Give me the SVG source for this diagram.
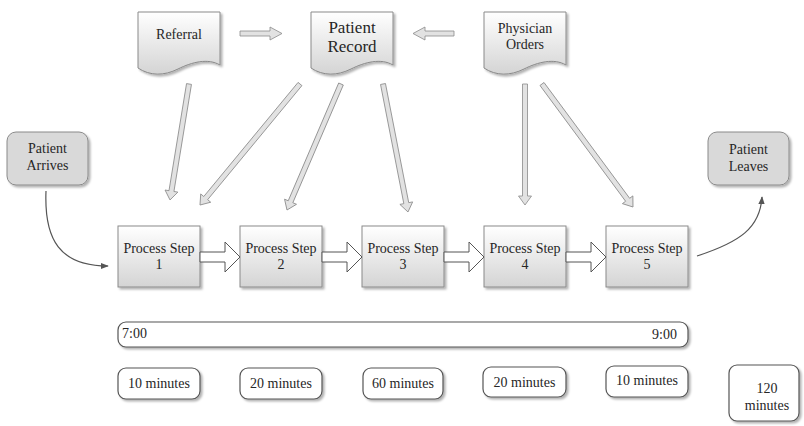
<svg xmlns="http://www.w3.org/2000/svg" width="804" height="426" viewBox="0 0 804 426">
  <defs>
    <linearGradient id="paper" x1="0" y1="0" x2="0" y2="1">
      <stop offset="0" stop-color="#ffffff"/>
      <stop offset="1" stop-color="#d4d4d4"/>
    </linearGradient>
    <filter id="shadow" x="-10%" y="-10%" width="130%" height="130%">
      <feDropShadow dx="2" dy="2" stdDeviation="1.2" flood-color="#000" flood-opacity="0.3"/>
    </filter>
    <marker id="tip" viewBox="0 0 10 10" refX="9" refY="5" markerWidth="8" markerHeight="8" orient="auto" markerUnits="userSpaceOnUse">
      <path d="M0,1 L10,5 L0,9 Z" fill="#555"/>
    </marker>
  </defs>
  <style>
    text { font-family: "Liberation Serif", "Times New Roman", serif; font-size: 14px; fill: #262626; }
    .mid { text-anchor: middle; }
    .doc { fill: url(#paper); stroke: #8a8a8a; stroke-width: 1; filter: url(#shadow); }
    .step { fill: url(#paper); stroke: #8a8a8a; stroke-width: 1; filter: url(#shadow); }
    .term { fill: #d9d9d9; stroke: #8a8a8a; stroke-width: 1; filter: url(#shadow); }
    .pill { fill: #ffffff; stroke: #555; stroke-width: 1.2; filter: url(#shadow); }
    .block { fill: #e2e2e2; stroke: #8a8a8a; stroke-width: 0.8; }
    .push { fill: #ffffff; stroke: #555; stroke-width: 1; }
    .flow { fill: none; stroke: #555; stroke-width: 1.2; marker-end: url(#tip); }
  </style>

  <!-- documents -->
  <g id="referral">
    <path class="doc" d="M138,12 H220 V65 C208,58 192,62 178,69 C164,76 150,76 138,68 Z"/>
    <text class="mid" x="179" y="39">Referral</text>
  </g>
  <g id="patient-record">
    <path class="doc" d="M311,12 H393 V65 C381,58 365,62 351,69 C337,76 323,76 311,68 Z"/>
    <text class="mid" x="352" y="33" style="font-size:17px">Patient</text>
    <text class="mid" x="352" y="52" style="font-size:17px">Record</text>
  </g>
  <g id="physician-orders">
    <path class="doc" d="M484,12 H566 V65 C554,58 538,62 524,69 C510,76 496,76 484,68 Z"/>
    <text class="mid" x="525" y="33">Physician</text>
    <text class="mid" x="525" y="49">Orders</text>
  </g>

  <!-- terminals -->
  <g id="patient-arrives">
    <rect class="term" x="7" y="132" width="81" height="53" rx="9"/>
    <text class="mid" x="47.5" y="153">Patient</text>
    <text class="mid" x="47.5" y="170">Arrives</text>
  </g>
  <g id="patient-leaves">
    <rect class="term" x="708" y="132" width="81" height="53" rx="9"/>
    <text class="mid" x="748.5" y="154">Patient</text>
    <text class="mid" x="748.5" y="171">Leaves</text>
  </g>

  <!-- process steps -->
  <g id="step-1">
    <rect class="step" x="118" y="226" width="82" height="61"/>
    <text class="mid" x="159" y="253">Process Step</text>
    <text class="mid" x="159" y="269">1</text>
  </g>
  <g id="step-2">
    <rect class="step" x="240" y="226" width="82" height="61"/>
    <text class="mid" x="281" y="253">Process Step</text>
    <text class="mid" x="281" y="269">2</text>
  </g>
  <g id="step-3">
    <rect class="step" x="362" y="226" width="82" height="61"/>
    <text class="mid" x="403" y="253">Process Step</text>
    <text class="mid" x="403" y="269">3</text>
  </g>
  <g id="step-4">
    <rect class="step" x="484" y="226" width="82" height="61"/>
    <text class="mid" x="525" y="253">Process Step</text>
    <text class="mid" x="525" y="269">4</text>
  </g>
  <g id="step-5">
    <rect class="step" x="606" y="226" width="82" height="61"/>
    <text class="mid" x="647" y="253">Process Step</text>
    <text class="mid" x="647" y="269">5</text>
  </g>

  <!-- timeline -->
  <g id="timeline">
    <rect class="pill" x="118" y="322" width="570" height="25" rx="8"/>
    <text x="122" y="338">7:00</text>
    <text x="677" y="339" style="text-anchor:end">9:00</text>
  </g>

  <!-- durations -->
  <g id="time-1">
    <rect class="pill" x="118" y="368" width="82" height="31" rx="8"/>
    <text class="mid" x="159" y="388">10 minutes</text>
  </g>
  <g id="time-2">
    <rect class="pill" x="240" y="368" width="82" height="31" rx="8"/>
    <text class="mid" x="281" y="388">20 minutes</text>
  </g>
  <g id="time-3">
    <rect class="pill" x="363" y="368" width="80" height="31" rx="8"/>
    <text class="mid" x="403" y="388">60 minutes</text>
  </g>
  <g id="time-4">
    <rect class="pill" x="483" y="367" width="83" height="30" rx="8"/>
    <text class="mid" x="524.5" y="387">20 minutes</text>
  </g>
  <g id="time-5">
    <rect class="pill" x="606" y="366" width="82" height="31" rx="8"/>
    <text class="mid" x="647" y="385">10 minutes</text>
  </g>
  <g id="time-total">
    <rect class="pill" x="729" y="365" width="70" height="56" rx="8"/>
    <text class="mid" x="767" y="393">120</text>
    <text class="mid" x="767" y="410">minutes</text>
  </g>

  <!-- connectors -->
  <g id="connectors">
    <!-- document flow -->
    <polygon class="block" points="240,31 270,31 270,27 282,33.5 270,40 270,36 240,36"/>
    <polygon class="block" points="454,31 425,31 425,27 413,33.5 425,40 425,36 454,36"/>

    <!-- document feeds into steps -->
    <polygon class="block" transform="translate(189,84) rotate(99.3)" points="0,-2.5 108.5,-2.5 108.5,-6.5 117.5,0 108.5,6.5 108.5,2.5 0,2.5"/>
    <polygon class="block" transform="translate(300,84) rotate(129.57)" points="0,-2.5 148,-2.5 148,-6.5 157,0 148,6.5 148,2.5 0,2.5"/>
    <polygon class="block" transform="translate(341,84) rotate(113.2)" points="0,-2.5 128.1,-2.5 128.1,-6.5 137.1,0 128.1,6.5 128.1,2.5 0,2.5"/>
    <polygon class="block" transform="translate(383,84) rotate(78.95)" points="0,-2.5 121.4,-2.5 121.4,-6.5 130.4,0 121.4,6.5 121.4,2.5 0,2.5"/>
    <polygon class="block" transform="translate(525,84) rotate(90)" points="0,-2.5 112,-2.5 112,-6.5 121,0 112,6.5 112,2.5 0,2.5"/>
    <polygon class="block" transform="translate(542,84) rotate(53.51)" points="0,-2.5 144,-2.5 144,-6.5 153,0 144,6.5 144,2.5 0,2.5"/>

    <!-- step to step -->
    <polygon class="push" points="200,252 225,252 225,242 240,257 225,272 225,262 200,262"/>
    <polygon class="push" points="322,252 347,252 347,242 362,257 347,272 347,262 322,262"/>
    <polygon class="push" points="444,252 469,252 469,242 484,257 469,272 469,262 444,262"/>
    <polygon class="push" points="566,252 591,252 591,242 606,257 591,272 591,262 566,262"/>

    <!-- arrival and departure -->
    <path class="flow" d="M46,191 C44,240 60,266 108,266"/>
    <path class="flow" d="M697,256 C740,242 760,228 762,197"/>
  </g>
</svg>
